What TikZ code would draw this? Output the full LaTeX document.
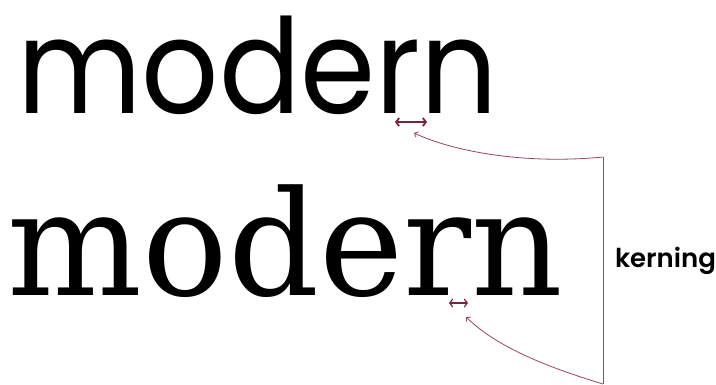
\documentclass[tikz,border=0pt]{standalone}
\usepackage{fontspec}
\usetikzlibrary{arrows.meta}
\newfontfamily\topfont{Poppins}
\newfontfamily\serfont{DejaVu Serif}
\newfontfamily\labfont{Poppins SemiBold}
\definecolor{kern}{RGB}{122,35,64}
\definecolor{kernline}{RGB}{150,70,100}
\begin{document}
\begin{tikzpicture}[x=1pt,y=-1pt,
  word/.style={anchor=base west, inner sep=0pt, outer sep=0pt},
  kernmark/.style={draw=kern, {Straight Barb[length=3pt,width=8pt]}-{Straight Barb[length=3pt,width=8pt]}},
  pointer/.style={draw=kernline, line width=0.8pt, -{Straight Barb[length=3pt,width=6pt]}}]
\useasboundingbox (0,0) rectangle (716,384);
\fill[white] (0,0) rectangle (716,384);
\node[word, font=\topfont\fontsize{128}{128}\selectfont] (top) at (17,113) {\scalebox{0.945}[1.03]{modern}};
\node[word, font=\serfont\fontsize{143}{143}\selectfont] (bot) at (8,295) {\scalebox{0.995}[1.02]{modern}};
\node[word, font=\labfont\fontsize{26}{26}\selectfont] (lab) at (615,267) {kerning};
\coordinate (k1a) at (395,122); \coordinate (k1b) at (427,122);
\coordinate (k2a) at (449,303); \coordinate (k2b) at (468,303);
\draw[kernmark, line width=1.8pt] (k1a) -- (k1b);
\draw[kernmark, line width=1.2pt] (k2a) -- (k2b);
\coordinate (tip1) at (414,133);
\coordinate (tip2) at (466,317);
\coordinate (br1) at (603,157);
\coordinate (br2) at (603,384);
\draw[kernline, line width=0.8pt] (br1) -- (br2);
\draw[pointer] (br1) .. controls (520,165) and (450,150) .. (tip1);
\draw[pointer] (br2) .. controls (540,365) and (495,345) .. (tip2);
\end{tikzpicture}
\end{document}
